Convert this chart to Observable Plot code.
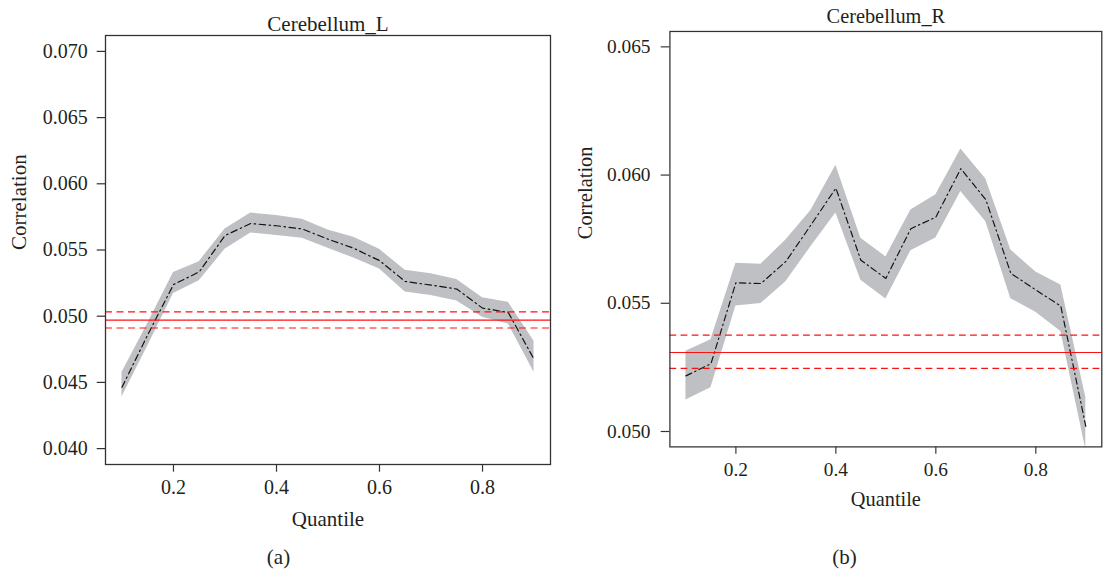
<!DOCTYPE html>
<html>
<head>
<meta charset="utf-8">
<script src="https://cdn.jsdelivr.net/npm/d3@7"></script>
<script src="https://cdn.jsdelivr.net/npm/@observablehq/plot@0.6"></script>
<style>
  html, body { margin: 0; padding: 0; background: #fff; overflow: hidden; }
  #wrap { position: relative; width: 1111px; height: 569px; overflow: hidden; }
  .panel { position: absolute; top: 0; }
  .panel svg, .panel svg text { font-family: "Liberation Serif", "Times New Roman", serif !important; }
  .cap { position: absolute; text-align: center; font-family: "Liberation Serif", serif; font-size: 21px; line-height: 24px; color: #231f20; }
</style>
</head>
<body>
<div id="wrap">
  <div id="pa" class="panel" style="left:0px"></div>
  <div id="pb" class="panel" style="left:560px"></div>
  <div class="cap" style="left:0px; width:557px; top:545px">(a)</div>
  <div class="cap" style="left:560px; width:569px; top:545px">(b)</div>
</div>
<script>
// Quantile levels
const quantiles = [0.10, 0.15, 0.20, 0.25, 0.30, 0.35, 0.40, 0.45, 0.50, 0.55, 0.60, 0.65, 0.70, 0.75, 0.80, 0.85, 0.90];

// Cerebellum_L
const leftEst = [0.04463, 0.04860, 0.05239, 0.05335, 0.05609, 0.05700, 0.05683, 0.05659, 0.05582, 0.05513, 0.05420, 0.05262, 0.05235, 0.05205, 0.05061, 0.05028, 0.04675];
const leftHi  = [0.04575, 0.04945, 0.05330, 0.05412, 0.05659, 0.05779, 0.05760, 0.05733, 0.05651, 0.05596, 0.05505, 0.05347, 0.05321, 0.05278, 0.05140, 0.05106, 0.04811];
const leftLo  = [0.04390, 0.04775, 0.05171, 0.05267, 0.05505, 0.05629, 0.05610, 0.05588, 0.05513, 0.05439, 0.05357, 0.05182, 0.05157, 0.05115, 0.04992, 0.04942, 0.04577];
const leftRef = { mean: 0.04970, lo: 0.04911, hi: 0.05033 };

// Cerebellum_R
const rightEst = [0.05217, 0.05264, 0.05580, 0.05577, 0.05663, 0.05805, 0.05949, 0.05668, 0.05597, 0.05791, 0.05836, 0.06025, 0.05904, 0.05617, 0.05552, 0.05489, 0.05020];
const rightHi  = [0.05313, 0.05358, 0.05656, 0.05652, 0.05747, 0.05862, 0.06038, 0.05754, 0.05681, 0.05864, 0.05923, 0.06102, 0.05985, 0.05708, 0.05622, 0.05571, 0.05134];
const rightLo  = [0.05123, 0.05171, 0.05489, 0.05499, 0.05584, 0.05721, 0.05852, 0.05590, 0.05517, 0.05705, 0.05755, 0.05936, 0.05818, 0.05518, 0.05465, 0.05390, 0.04930];
const rightRef = { mean: 0.05308, lo: 0.05246, hi: 0.05376 };

// Tick labels
const xTicks = [0.2, 0.4, 0.6, 0.8];
const leftYTicks = [0.040, 0.045, 0.050, 0.055, 0.060, 0.065, 0.070];
const rightYTicks = [0.050, 0.055, 0.060, 0.065];

const FONT = "'Liberation Serif', 'Times New Roman', serif";
const INK = "#231f20";

function panel(opts) {
  const rows = quantiles.map((q, i) => ({ q, est: opts.est[i], lo: opts.lo[i], hi: opts.hi[i] }));
  const txt = { fontFamily: FONT, fontSize: 21, fill: INK, lineAnchor: "middle" };
  return Plot.plot({
    width: opts.width,
    height: 535,
    marginLeft: opts.marginLeft,
    marginRight: 10,
    marginTop: opts.marginTop,
    marginBottom: opts.marginBottom,
    style: { fontFamily: FONT, fontSize: "20px", color: INK, background: "white", overflow: "visible" },
    x: { domain: [0.068, 0.932] },
    y: { domain: opts.yDomain },
    marks: [
      Plot.areaY(rows, { x: "q", y1: "lo", y2: "hi", fill: "#bfc0c3", clip: true }),
      Plot.lineY(rows, { x: "q", y: "est", stroke: "#111", strokeWidth: 1.2, strokeDasharray: "6.5,3.5,1.5,3.5", clip: true }),
      Plot.ruleY([opts.ref.mean], { stroke: "#ff1010", strokeWidth: 1.2 }),
      Plot.ruleY([opts.ref.lo, opts.ref.hi], { stroke: "#ff1010", strokeWidth: 1.2, strokeDasharray: "7,4.5" }),
      Plot.frame({ stroke: "#333", strokeWidth: 1.3 }),
      Plot.axisX(xTicks, { tickSize: 7.7, tickPadding: 8, tickFormat: d3.format(".1f"), label: null, stroke: "#333", strokeWidth: 1.2, fontSize: 20, fontFamily: FONT, fill: INK }),
      Plot.axisY(opts.yTicks, { tickSize: opts.yTickSize, tickPadding: opts.yTickPad, tickFormat: d3.format(".3f"), label: null, stroke: "#333", strokeWidth: 1.2, fontSize: 20, fontFamily: FONT, fill: INK }),
      Plot.text([opts.title], { ...txt, frameAnchor: "top", dy: opts.titleDy }),
      Plot.text(["Quantile"], { ...txt, frameAnchor: "bottom", dy: 54.7 }),
      Plot.text(["Correlation"], { ...txt, frameAnchor: "left", dx: -86.7, rotate: -90 })
    ]
  });
}

document.getElementById("pa").appendChild(panel({
  width: 560, marginLeft: 105, marginTop: 35, marginBottom: 71,
  yDomain: [0.0388, 0.0712], yTicks: leftYTicks, yTickSize: 8.3, yTickPad: 9.4,
  est: leftEst, lo: leftLo, hi: leftHi, ref: leftRef,
  title: "Cerebellum_L", titleDy: -11.7
}));

document.getElementById("pb").appendChild(panel({
  width: 569, marginLeft: 113, marginTop: 32, marginBottom: 74,
  yDomain: [0.0494, 0.0656], yTicks: rightYTicks, yTickSize: 9, yTickPad: 11,
  est: rightEst, lo: rightLo, hi: rightHi, ref: rightRef,
  title: "Cerebellum_R", titleDy: -15
}));
</script>
</body>
</html>
